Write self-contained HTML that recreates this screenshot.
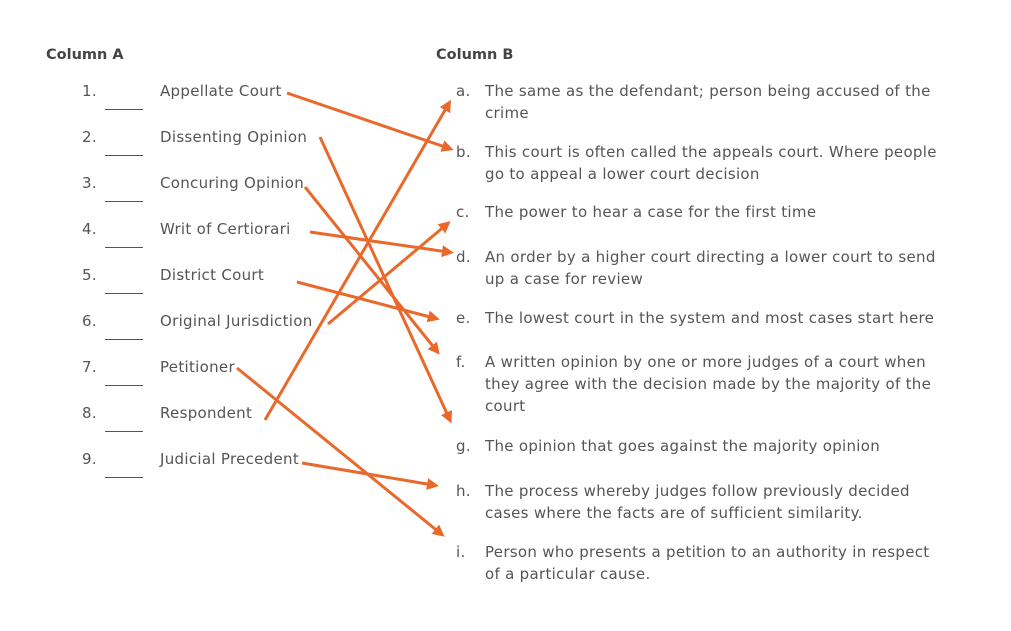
<!DOCTYPE html>
<html><head><style>
body{margin:0;width:1011px;height:631px;background:#fff;position:relative;font-family:"DejaVu Sans",sans-serif;color:#555;font-size:15px;overflow:hidden}
.t{position:absolute;white-space:nowrap;line-height:22px;letter-spacing:0.3px}
.h{font-weight:bold;color:#444;font-size:14.5px;letter-spacing:0}
.u{position:absolute;width:38px;height:1px;background:#555}
</style></head><body>
<div class="t h" style="left:46px;top:44px">Column A</div>
<div class="t h" style="left:436px;top:44px">Column B</div>

<div class="t" style="left:82px;top:80px">1.</div><div class="u" style="left:105px;top:109px"></div><div class="t" style="left:160px;top:80px">Appellate Court</div>
<div class="t" style="left:82px;top:126px">2.</div><div class="u" style="left:105px;top:155px"></div><div class="t" style="left:160px;top:126px">Dissenting Opinion</div>
<div class="t" style="left:82px;top:172px">3.</div><div class="u" style="left:105px;top:201px"></div><div class="t" style="left:160px;top:172px">Concuring Opinion</div>
<div class="t" style="left:82px;top:218px">4.</div><div class="u" style="left:105px;top:247px"></div><div class="t" style="left:160px;top:218px">Writ of Certiorari</div>
<div class="t" style="left:82px;top:264px">5.</div><div class="u" style="left:105px;top:293px"></div><div class="t" style="left:160px;top:264px">District Court</div>
<div class="t" style="left:82px;top:310px">6.</div><div class="u" style="left:105px;top:339px"></div><div class="t" style="left:160px;top:310px">Original Jurisdiction</div>
<div class="t" style="left:82px;top:356px">7.</div><div class="u" style="left:105px;top:385px"></div><div class="t" style="left:160px;top:356px">Petitioner</div>
<div class="t" style="left:82px;top:402px">8.</div><div class="u" style="left:105px;top:431px"></div><div class="t" style="left:160px;top:402px">Respondent</div>
<div class="t" style="left:82px;top:448px">9.</div><div class="u" style="left:105px;top:477px"></div><div class="t" style="left:160px;top:448px">Judicial Precedent</div>

<div class="t" style="left:456px;top:80px">a.</div><div class="t" style="left:485px;top:80px">The same as the defendant; person being accused of the<br>crime</div>
<div class="t" style="left:456px;top:141px">b.</div><div class="t" style="left:485px;top:141px">This court is often called the appeals court. Where people<br>go to appeal a lower court decision</div>
<div class="t" style="left:456px;top:201px">c.</div><div class="t" style="left:485px;top:201px">The power to hear a case for the first time</div>
<div class="t" style="left:456px;top:246px">d.</div><div class="t" style="left:485px;top:246px">An order by a higher court directing a lower court to send<br>up a case for review</div>
<div class="t" style="left:456px;top:307px">e.</div><div class="t" style="left:485px;top:307px">The lowest court in the system and most cases start here</div>
<div class="t" style="left:456px;top:351px">f.</div><div class="t" style="left:485px;top:351px">A written opinion by one or more judges of a court when<br>they agree with the decision made by the majority of the<br>court</div>
<div class="t" style="left:456px;top:435px">g.</div><div class="t" style="left:485px;top:435px">The opinion that goes against the majority opinion</div>
<div class="t" style="left:456px;top:480px">h.</div><div class="t" style="left:485px;top:480px">The process whereby judges follow previously decided<br>cases where the facts are of sufficient similarity.</div>
<div class="t" style="left:456px;top:541px">i.</div><div class="t" style="left:485px;top:541px">Person who presents a petition to an authority in respect<br>of a particular cause.</div>

<svg width="1011" height="631" style="position:absolute;left:0;top:0">
<defs><marker id="a" markerWidth="4" markerHeight="4" refX="2" refY="2" orient="auto"><path d="M0,0L4,2L0,4z" fill="#e8692a"/></marker></defs>
<g stroke="#e8692a" stroke-width="3" marker-end="url(#a)">
<line x1="287" y1="93" x2="448" y2="148"/>
<line x1="320" y1="137" x2="449" y2="418"/>
<line x1="305" y1="187" x2="436" y2="350"/>
<line x1="310" y1="232" x2="448" y2="252"/>
<line x1="297" y1="282" x2="434" y2="318"/>
<line x1="328" y1="324" x2="446" y2="225"/>
<line x1="237" y1="368" x2="440" y2="533"/>
<line x1="265" y1="420" x2="448" y2="105"/>
<line x1="302" y1="463" x2="433" y2="485"/>
</g></svg>
</body></html>
